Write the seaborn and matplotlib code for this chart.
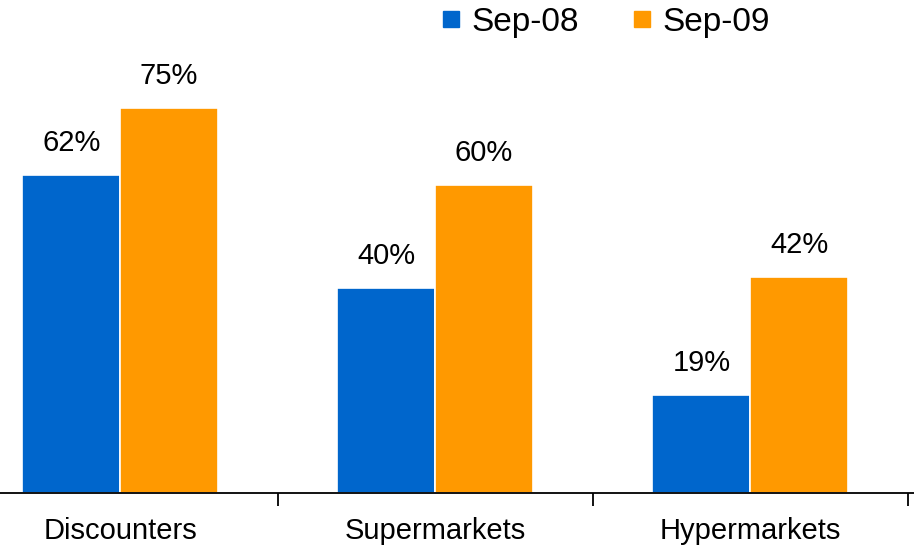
import matplotlib
matplotlib.use("Agg")
import matplotlib.pyplot as plt
import seaborn as sns
import pandas as pd
from matplotlib.lines import Line2D

categories = ["Discounters", "Supermarkets", "Hypermarkets"]
series_names = ["Sep-08", "Sep-09"]
sep08 = [62, 40, 19]
sep09 = [75, 60, 42]
colors = ["#0066CC", "#FF9900"]

df = pd.DataFrame({
    "category": categories * 2,
    "period": [series_names[0]] * 3 + [series_names[1]] * 3,
    "value": sep08 + sep09,
})

sns.set_theme(style="white")
plt.rcParams["font.family"] = ["Liberation Sans", "DejaVu Sans"]
plt.rcParams["text.color"] = "black"

fig = plt.figure(figsize=(9.14, 5.48), dpi=100)
ax = fig.add_axes([0, 55 / 548, 1, 1 - 55 / 548])

sns.barplot(data=df, x="category", y="value", hue="period", order=categories,
            hue_order=series_names, palette=colors, width=0.62, ax=ax,
            edgecolor="white", linewidth=1.2, saturation=1, legend=False)

for cont in ax.containers:
    ax.bar_label(cont, labels=[f"{int(v)}%" for v in cont.datavalues],
                 padding=13, fontsize=21, color="black")

ax.set_xlim(-0.381, 2.52)
ax.set_ylim(0, 96)
ax.set_xlabel("")
ax.set_ylabel("")
ax.set_yticks([])
for s in ["top", "right", "left"]:
    ax.spines[s].set_visible(False)
ax.spines["bottom"].set_color("black")
ax.spines["bottom"].set_linewidth(1.3)
ax.set_xticks(range(len(categories)))
ax.set_xticklabels(categories, fontsize=21, color="black")
ax.tick_params(axis="x", which="major", length=0, pad=17)
ax.set_xticks([0.5, 1.5, 2.5], minor=True)
ax.tick_params(axis="x", which="minor", length=9, width=1.3, color="black", direction="out", bottom=True)

handles = [Line2D([], [], marker="s", linestyle="none", markersize=12, color=c) for c in colors]
fig.legend(handles, series_names, loc="center left", bbox_to_anchor=(438 / 914, 1 - 22 / 548),
           ncol=2, frameon=False, fontsize=24, handletextpad=0.2, columnspacing=1.5,
           handlelength=0.8, borderaxespad=0, borderpad=0, labelcolor="black")

fig.savefig("out.png", dpi=100)
